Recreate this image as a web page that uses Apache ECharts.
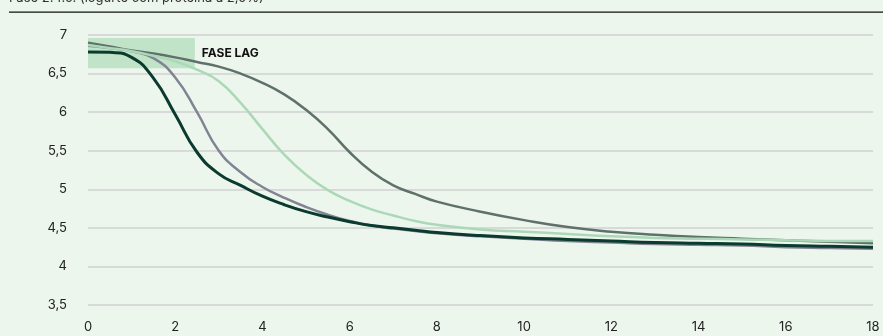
<!DOCTYPE html>
<html><head><meta charset="utf-8">
<script src="https://cdn.jsdelivr.net/npm/echarts@6/dist/echarts.min.js"></script>
<style>html,body{margin:0;padding:0;background:#edf6ed;}#c{width:883px;height:336px;}</style>
</head><body><div id="c"></div>
<script>
var titleText = 'Fase 2.4.5. (iogurte com proteína a 2,5%)';
var xs = [0,0.5,1,1.5,2,2.5,3,3.5,4,4.5,5,5.5,6,6.5,7,7.5,8,9,10,11,12,13,14,15,16,17,18];
var darkGrey = [6.9,6.85,6.8,6.76,6.71,6.65,6.59,6.5,6.38,6.23,6.03,5.78,5.48,5.23,5.05,4.94,4.84,4.71,4.6,4.51,4.45,4.41,4.38,4.36,4.34,4.32,4.3];
var purpleGrey = [6.86,6.83,6.79,6.7,6.45,6.0,5.5,5.22,5.03,4.89,4.77,4.67,4.59,4.53,4.49,4.46,4.43,4.39,4.36,4.33,4.31,4.29,4.28,4.27,4.25,4.24,4.23];
var lightGreen = [6.87,6.83,6.79,6.73,6.66,6.55,6.4,6.12,5.78,5.45,5.19,4.99,4.85,4.74,4.66,4.59,4.54,4.48,4.45,4.42,4.39,4.37,4.36,4.35,4.34,4.33,4.33];
var dark = [6.78,6.775,6.71,6.44,5.97,5.48,5.2,5.05,4.91,4.8,4.71,4.64,4.58,4.53,4.5,4.47,4.44,4.4,4.37,4.35,4.33,4.31,4.3,4.29,4.27,4.26,4.25];
var lagX = [0, 2.45];
var lagY = [6.57, 6.96];
var lagLabel = 'FASE LAG';

function pairs(v){ return xs.map(function(x,i){ return [x, v[i]]; }); }
var chart = echarts.init(document.getElementById('c'));
var font = 'Inter, "Noto Sans", sans-serif';
function line(data, color, w, z){
  return {type:'line', data: pairs(data), smooth:0.5, symbol:'none', lineStyle:{color:color,width:w}, z:z, animation:false};
}
var s1 = line(darkGrey, '#5f716b', 2.5, 2);
s1.markArea = {silent:true, itemStyle:{color:'rgba(140,205,155,0.45)'}, label:{show:true, position:'right', distance:7, color:'#111', fontWeight:'bold', fontSize:12, fontFamily:font, formatter: lagLabel},
  data:[[{coord:[lagX[0], lagY[0]]},{coord:[lagX[1], lagY[1]]}]]};
chart.setOption({
  backgroundColor:'#edf6ed',
  animation:false,
  graphic:[
    {type:'text', left:9, top:-8, style:{text:titleText, fill:'#333', font:'13px '+font}},
    {type:'rect', shape:{x:9,y:11.5,width:874,height:1.2}, style:{fill:'#111'}}
  ],
  grid:{left:88, right:10, top:35, bottom:31},
  xAxis:{type:'value', min:0, max:18, interval:2, axisLine:{show:false}, axisTick:{show:false}, splitLine:{show:false},
    axisLabel:{color:'#222', fontSize:13, fontFamily:font, margin:16}},
  yAxis:{type:'value', min:3.5, max:7, interval:0.5, axisLine:{show:false}, axisTick:{show:false},
    splitLine:{lineStyle:{color:'#cfd0d2', width:1.5}},
    axisLabel:{color:'#222', fontSize:13, fontFamily:font, margin:21, formatter:function(v){return String(v).replace('.',',');}}},
  series:[
    s1,
    line(purpleGrey, '#838493', 2.5, 3),
    line(lightGreen, '#abd9b7', 2.5, 4),
    line(dark, '#0b3a2e', 3, 5)
  ]
});
</script></body></html>
